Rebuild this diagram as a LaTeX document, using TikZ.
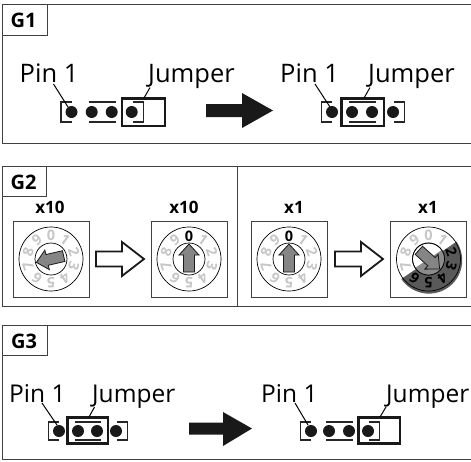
\documentclass[tikz,border=0pt]{standalone}
\usepackage{fontspec}
\setmainfont{Open Sans}
\tikzset{
  x=1pt,y=-1pt,
  panel/.style={draw=black!75,line width=0.9pt},
  tag/.style={font=\fontsize{20}{20}\selectfont\bfseries},
  big/.style={font=\fontsize{25.5}{27}\selectfont,anchor=base west,inner sep=0pt},
  bigc/.style={font=\fontsize{24.5}{27}\selectfont,anchor=base west,inner sep=0pt},
  leader/.style={draw=black,line width=1pt},
  pin/.style={fill=black!90},
  hdr/.style={draw=black!85,line width=1.3pt},
  jump/.style={draw=black!90,line width=2.4pt},
  heavy/.style={fill=black!90},
  hollow/.style={draw=black!90,line width=1.8pt,fill=white,line join=miter},
  dialbox/.style={draw=black!75,line width=0.8pt},
  ring/.style={draw=black,line width=0.7pt},
  digit/.style={font=\fontsize{14.5}{15}\selectfont\bfseries,inner sep=0pt},
  needle/.style={draw=black!90,line width=0.8pt,fill=black!48},
  lab/.style={font=\fontsize{17}{17}\selectfont\bfseries,inner sep=0pt}
}
\newcommand{\pinrow}[6]{%
  \foreach \px in {#1,#2,#3,#4} \fill[pin] (\px,#5) circle (6);
  \draw[hdr] (#1,#5-#6) -- (#1-10.5,#5-#6) -- (#1-10.5,#5+#6) -- (#1,#5+#6);
  \draw[hdr] (#2-3,#5-#6) -- (#3+4,#5-#6) (#2-3,#5+#6) -- (#3+4,#5+#6);
  \draw[hdr] (#4+1,#5-#6) -- (#4+11.5,#5-#6) -- (#4+11.5,#5+#6) -- (#4+1,#5+#6);
}
\newcommand{\needleat}[3]{%
  \draw[needle,shift={(#1,#2)},rotate=#3] (-5.5,13) -- (5.5,13) -- (5.5,-4) -- (10,-4) -- (0,-15) -- (-10,-4) -- (-5.5,-4) -- cycle;
}
% centre x, centre y, colour, list of digits
\newcommand{\dialdigits}[4]{%
  \foreach \d in {#4} {
    \node[digit,text=#3] at ({#1+24*sin(36*\d)},{#2-24*cos(36*\d)}) [rotate=-36*\d] {\d};
  }
}
\newcommand{\dialcase}[2]{%
  \draw[dialbox] (#1-38,#2-38) rectangle (#1+38,#2+38);
}
\newcommand{\hollowarrow}[2]{%
  \draw[hollow] (#1,#2-7.5) -- (#1+26,#2-7.5) -- (#1+26,#2-17) -- (#1+48,#2) -- (#1+26,#2+17) -- (#1+26,#2+7.5) -- (#1,#2+7.5) -- cycle;
}
\begin{document}
\begin{tikzpicture}
\useasboundingbox (0,0) rectangle (471,461);
\fill[white] (0,0) rectangle (471,461);

% G1
\draw[panel] (471,4.5) -- (2,4.5) -- (2,143.5) -- (471,143.5);
\draw[panel] (2,4.5) rectangle (47,35);
\node[tag] (g1) at (23.5,20) {G1};
\node[big] (p1a) at (19.5,82) {Pin 1};
\node[big] (j1a) at (148,82) {Jumper};
\node[big] (p1b) at (280,82) {Pin 1};
\node[big] (j1b) at (368,82) {Jumper};
\pinrow{71.5}{91.7}{111.7}{131.7}{112}{10}
\draw[jump] (122,98.5) rectangle (165,126);
\coordinate (c1) at (68,107); \coordinate (c2) at (144,98);
\draw[leader] (53.5,84) -- (c1);
\draw[leader] (150,87.5) -- (c2);
\fill[heavy] (206,104) -- (242,104) -- (242,93) -- (273,110.5) -- (242,128) -- (242,117) -- (206,117) -- cycle;
\pinrow{332}{352}{372}{393}{112}{10}
\draw[jump] (341.5,98.5) rectangle (384,126);
\coordinate (c3) at (330,107); \coordinate (c4) at (364,98);
\draw[leader] (315,84) -- (c3);
\draw[leader] (370,87.5) -- (c4);

% G2
\draw[panel] (471,166) -- (2,166) -- (2,306) -- (471,306);
\draw[panel] (237,166) -- (237,306);
\draw[panel] (2,166) rectangle (46,196.5);
\node[tag] (g2) at (23.5,182) {G2};
\node[lab] (x1) at (50,207) {x10};
\node[lab] (x2) at (184,207) {x10};
\node[lab] (x3) at (294,207) {x1};
\node[lab] (x4) at (428,207) {x1};

\dialcase{51}{259}
\draw[ring] (51,259) circle (32);
\dialdigits{51}{259}{black!22}{0,...,9}
\draw[ring,fill=white] (51,259) circle (16);
\needleat{51}{259}{103}

\hollowarrow{96}{259}

\dialcase{189}{259}
\draw[ring] (189,259) circle (32);
\dialdigits{189}{259}{black!22}{1,...,9}
\node[digit,text=black] (d0a) at (189,236) {0};
\draw[ring,fill=white] (189,259) circle (16);
\needleat{189}{259}{0}

\dialcase{289}{259}
\draw[ring] (289,259) circle (32);
\dialdigits{289}{259}{black!22}{1,...,9}
\node[digit,text=black] (d0b) at (289,236) {0};
\draw[ring,fill=white] (289,259) circle (16);
\needleat{289}{259}{0}

\hollowarrow{335}{259}

\dialcase{428.5}{259}
\begin{scope}[shift={(429,260.5)}]
  \fill[black!65] (27.5,-18.8) arc[start angle=-34,end angle=146,radius=33.3] -- cycle;
\end{scope}
\draw[ring] (428.5,259) circle (32);
\dialdigits{428.5}{259}{black!22}{0,1,7,8,9}
\dialdigits{428.5}{259}{black}{2,3,4,5,6}
\draw[ring,fill=white] (428.5,259) circle (16);
\fill[black!45] (441.8,250) arc[start angle=-34,end angle=146,radius=16] -- cycle;
\draw[ring] (428.5,259) circle (16);
\needleat{428.5}{259}{-132}

% G3
\draw[panel] (471,325) -- (2,325) -- (2,459.5) -- (471,459.5);
\draw[panel] (2,325) rectangle (47,355);
\node[tag] (g3) at (24,341) {G3};
\node[bigc] (p3a) at (9,402) {Pin 1};
\node[bigc] (j3a) at (92,402) {Jumper};
\node[bigc] (p3b) at (261,402) {Pin 1};
\node[bigc] (j3b) at (386,402) {Jumper};
\pinrow{59}{78}{97}{116}{431}{9}
\draw[jump] (67.5,417.5) rectangle (108,443.5);
\coordinate (c5) at (57,425); \coordinate (c6) at (89,417);
\draw[leader] (42,403) -- (c5);
\draw[leader] (94.5,407) -- (c6);
\fill[heavy] (189,422.5) -- (223,422.5) -- (223,412) -- (252,428.5) -- (223,446) -- (223,434.5) -- (189,434.5) -- cycle;
\pinrow{311}{329}{349}{368}{431}{9}
\draw[jump] (358.5,417.5) rectangle (400,443.5);
\coordinate (c7) at (308,425); \coordinate (c8) at (380,417);
\draw[leader] (295,403) -- (c7);
\draw[leader] (386,407) -- (c8);
\end{tikzpicture}
\end{document}
